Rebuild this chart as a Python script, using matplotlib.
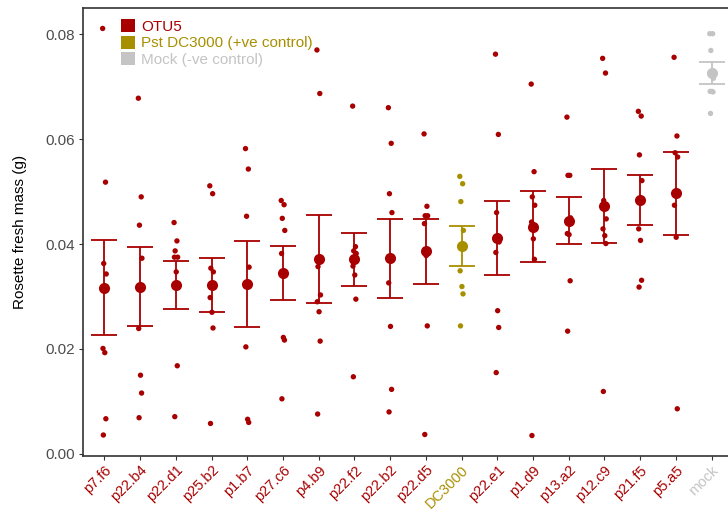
import numpy as np
import matplotlib
matplotlib.use("Agg")
import matplotlib.pyplot as plt
from matplotlib.patches import Patch

plt.rcParams["font.family"] = ["Liberation Sans", "DejaVu Sans"]

# strains in plotting order, with their treatment type
strains = ["p7.f6", "p22.b4", "p22.d1", "p25.b2", "p1.b7", "p27.c6", "p4.b9",
           "p22.f2", "p22.b2", "p22.d5", "DC3000", "p22.e1", "p1.d9", "p13.a2",
           "p12.c9", "p21.f5", "p5.a5", "mock"]
treatment = ["otu5"] * 10 + ["pst"] + ["otu5"] * 6 + ["mock"]

# rosette fresh mass (g) per plant
fresh_mass = [
    [0.0811, 0.0518, 0.0363, 0.0343, 0.0201, 0.0193, 0.0067, 0.0036],   # p7.f6
    [0.0678, 0.0490, 0.0436, 0.0373, 0.0239, 0.0150, 0.0116, 0.0069],   # p22.b4
    [0.0441, 0.0406, 0.0387, 0.0375, 0.0375, 0.0347, 0.0168, 0.0071],   # p22.d1
    [0.0511, 0.0496, 0.0354, 0.0347, 0.0298, 0.0270, 0.0240, 0.0058],   # p25.b2
    [0.0582, 0.0543, 0.0453, 0.0356, 0.0204, 0.0066, 0.0060],           # p1.b7
    [0.0483, 0.0475, 0.0449, 0.0426, 0.0382, 0.0222, 0.0217, 0.0105],   # p27.c6
    [0.0770, 0.0687, 0.0357, 0.0303, 0.0290, 0.0271, 0.0215, 0.0076],   # p4.b9
    [0.0663, 0.0395, 0.0387, 0.0382, 0.0358, 0.0341, 0.0295, 0.0147],   # p22.f2
    [0.0660, 0.0592, 0.0496, 0.0460, 0.0326, 0.0243, 0.0123, 0.0080],   # p22.b2
    [0.0610, 0.0472, 0.0454, 0.0454, 0.0439, 0.0378, 0.0244, 0.0037],   # p22.d5
    [0.0529, 0.0515, 0.0481, 0.0426, 0.0349, 0.0319, 0.0305, 0.0244],   # DC3000
    [0.0762, 0.0609, 0.0460, 0.0404, 0.0384, 0.0273, 0.0241, 0.0155],   # p22.e1
    [0.0705, 0.0538, 0.0490, 0.0474, 0.0442, 0.0410, 0.0371, 0.0035],   # p1.d9
    [0.0642, 0.0531, 0.0531, 0.0450, 0.0420, 0.0418, 0.0330, 0.0234],   # p13.a2
    [0.0754, 0.0726, 0.0483, 0.0448, 0.0429, 0.0416, 0.0401, 0.0119],   # p12.c9
    [0.0653, 0.0644, 0.0570, 0.0521, 0.0429, 0.0407, 0.0331, 0.0318],   # p21.f5
    [0.0756, 0.0606, 0.0574, 0.0566, 0.0474, 0.0413, 0.0086],           # p5.a5
    [0.0801, 0.0801, 0.0769, 0.0716, 0.0691, 0.0691, 0.0690, 0.0649],   # mock
]

legend_labels = ["OTU5", "Pst DC3000 (+ve control)", "Mock (-ve control)"]

COLORS = {"otu5": "#A80000", "pst": "#A88F00", "mock": "#C4C4C4"}
JITTER = [-0.05, 0.03, -0.02, 0.05, -0.04, 0.01, 0.04, -0.03]

fig = plt.figure(figsize=(7.28, 5.13), dpi=100)
ax = fig.add_axes([83 / 728, 1 - 456 / 513, 650 / 728, 448 / 513])

for i, (vals, kind) in enumerate(zip(fresh_mass, treatment)):
    c = COLORS[kind]
    vals = np.array(vals)
    xs = i + np.array(JITTER[:len(vals)])
    ax.scatter(xs, vals, s=15, color=c, edgecolors="none", zorder=2)
    # mean +/- standard error
    mean = vals.mean()
    se = vals.std(ddof=1) / np.sqrt(len(vals))
    ax.errorbar(i, mean, yerr=se, color=c, lw=1.3, capsize=9.5, capthick=1.3,
                zorder=3)
    ax.plot(i, mean, "o", color=c, markersize=8, markeredgewidth=0, zorder=4)

ax.set_xlim(-0.6, len(strains) - 0.4)
ax.set_ylim(-0.0004, 0.085)
ax.set_yticks([0.0, 0.02, 0.04, 0.06, 0.08])
ax.set_yticklabels(["0.00", "0.02", "0.04", "0.06", "0.08"])
ax.set_xticks(range(len(strains)))
ax.set_xticklabels(strains, rotation=45, ha="right", rotation_mode="anchor")
for lab, kind in zip(ax.get_xticklabels(), treatment):
    lab.set_color(COLORS[kind])

ax.tick_params(axis="both", length=3, width=0.8, color="#333333")
ax.tick_params(axis="y", labelsize=11, labelcolor="#4D4D4D", pad=3)
ax.tick_params(axis="x", labelsize=10.5, pad=2)
for side in ["left", "bottom", "top"]:
    ax.spines[side].set_color("#333333")
    ax.spines[side].set_linewidth(1.2)
ax.spines["right"].set_visible(False)

ax.set_ylabel("Rosette fresh mass (g)", fontsize=11, labelpad=13)

handles = [Patch(facecolor=COLORS[k], edgecolor="none")
           for k in ["otu5", "pst", "mock"]]
ax.legend(handles, legend_labels, loc="upper left", bbox_to_anchor=(0.045, 0.995),
          frameon=False, fontsize=11, handlelength=0.9, handleheight=0.9,
          handletextpad=0.4, labelspacing=0.12, borderaxespad=0.2,
          labelcolor=[COLORS[k] for k in ["otu5", "pst", "mock"]])

fig.savefig("out.png", dpi=100)
